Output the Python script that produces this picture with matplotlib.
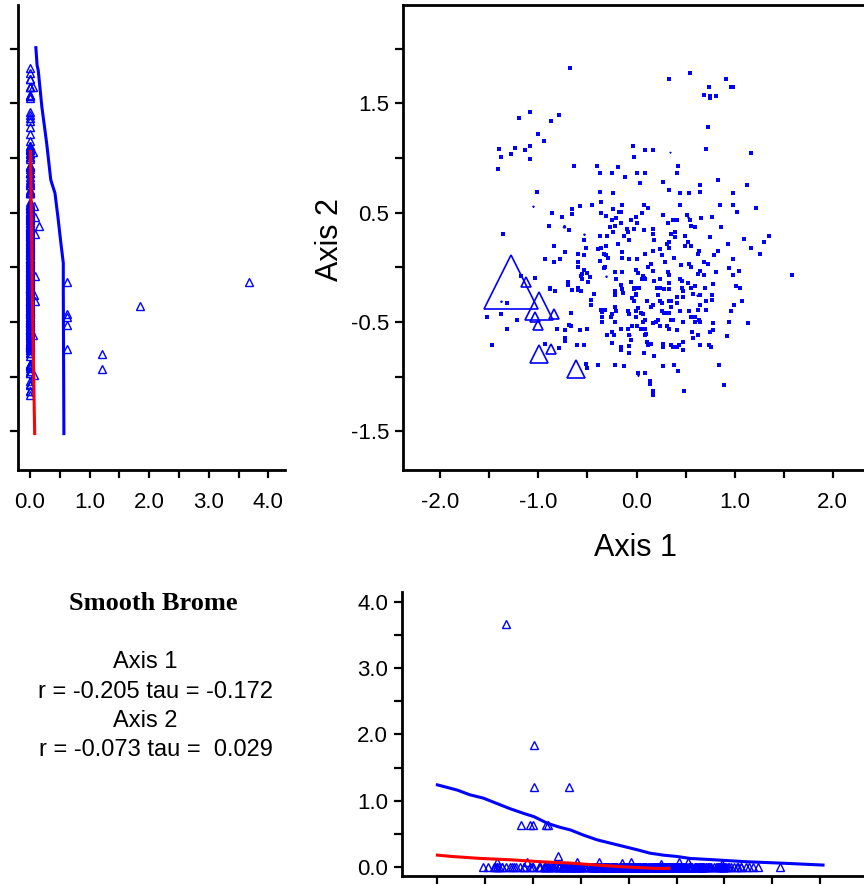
import matplotlib
matplotlib.use('Agg')
import matplotlib.pyplot as plt
import numpy as np

plt.rcParams['font.family'] = ['Liberation Sans', 'DejaVu Sans']

# plots without smooth brome (axis 1, axis 2 scores)
ax1_zero = [-0.68, -1.20, -1.09, -0.87, -0.79, -1.00, -0.94, -1.09, -1.14, -1.24, -1.28, -1.40, -1.38, -1.09, -1.41,
            -0.04, -0.03, -0.64, -0.40, -0.19, -0.37, -0.25, 0.00,
            0.54, 0.33, 0.91, 0.74, 0.96, 0.98, 0.69, 0.75, 0.75, 0.81, 0.73, 0.09, 0.17, 0.71, 1.17, 0.42, 0.09, 0.41,
            -1.01, -1.36, -0.89, -0.86, -0.76, -0.69, -0.66, -0.66, -0.58, -0.45, -0.12, 0.04, -0.37, -0.24, -0.36,
            -0.15, -0.36, -0.31, -0.24, -0.18, -0.16, -0.25, -0.21, -0.16, -0.06, -0.01, 0.00, -0.27, -0.22, -0.24,
            -0.10, -0.09, -0.03, -0.13, -0.37, -0.30, -0.08, -0.54, -0.52, -0.19, -0.31, -0.39, -0.36, -0.84, -0.73,
            -0.60, -0.54, -0.33, -0.31, -0.29, -0.15, -0.15, -0.08, 0.00, -0.93, -0.84, -0.78, -0.60, -0.37, -0.60,
            -0.32, -0.33, -0.54, -0.56, -0.57, -0.50, -0.47, -0.49, -0.56, -0.22, -0.15, -0.01, 0.01, -0.21, -0.06,
            -1.03, -1.18, -0.70, -0.70, -0.88, -0.60, -0.16, -0.03,
            0.27, 0.83, 0.65, 1.13, 0.33, 0.44, 0.53, 0.65, 0.98, 0.08, 0.12, 0.44, 0.85, 0.98, 1.02, 1.22, 0.06,
            0.27, 0.51, 0.54, 0.66, 0.77, 0.32, 0.37, 0.41, 0.56, 0.60, 0.86, 0.08, 0.17, 0.17, 0.35, 0.39, 0.39,
            0.49, 0.75, 1.10, 1.35, 0.18, 0.31, 0.33, 0.33, 0.52, 0.56, 0.49, 0.93, 1.30, 1.17, 0.24, 0.17, 0.64,
            0.63, 0.83, 1.26, 0.09, 0.26, 0.79, 0.38, 0.98, 0.29, 0.15, 0.12, 0.45, 0.53, 0.56, 0.69, 0.73, 0.17,
            0.32, 0.65, 0.63, 0.81, 0.94, 1.04, 0.98, 1.58, 0.07, 0.08, 0.06, 0.09, 0.18, 0.24, 0.33, 0.33, 0.44,
            0.46, 0.52, 0.69, 0.60, 0.78, 1.01, 1.05, 0.01, 0.03, 0.21, 0.24, 0.46, 0.55, 0.70,
            -1.32, -1.52, -1.38, -1.22, -1.32, -1.47, -0.88, -0.83, -0.66, -0.60, -0.57, -0.43, -0.46, -0.46, -0.67,
            -0.81, -0.73, -0.69, -0.67, -0.58, -0.50, -0.73, -0.73, -0.61, -0.54, -0.79, -0.93, -0.52, -0.50, -0.39,
            -0.22, -0.13, 0.02, -0.36, -0.35, -0.32, -0.35, -0.35, -0.26, -0.25, -0.21, -0.22, -0.22, -0.22, -0.15,
            -0.14, -0.03, -0.01, -0.05, 0.01, -0.01, -0.09, -0.08, -0.01, -0.22, -0.16, -0.09, -0.05, 0.00, -0.30,
            -0.25, -0.23, -0.08, -0.06, -0.25, -0.16, -0.16, -0.08, -0.08,
            0.28, 0.33, 0.47, -0.01, 0.22, 0.41, 0.47, 0.58, 0.65, 0.77, 0.77, 0.11, 0.24, 0.26, 0.33, 0.35, 0.41,
            0.71, 0.65, -0.03, 0.15, 0.17, 0.35, 0.99, 1.07, 0.05, 0.07, 0.26, 0.28, 0.31, 0.33, 0.44, 0.53, 0.63,
            0.71, 0.96, 0.09, 0.07, 0.22, 0.20, 0.35, 0.37, 0.47, 0.55, 0.60, 0.60, 0.64, 0.65, 0.78, 0.94, 1.14,
            0.05, 0.09, 0.17, 0.24, 0.31, 0.33, 0.41, 0.57, 0.75, 0.78, 0.10, 0.09, 0.58, 0.63, 0.92, 0.11, 0.12,
            0.15, 0.27, 0.27, 0.35, 0.37, 0.41, 0.43, 0.47, 0.47, 0.65, 0.74, 0.76, 0.08, 0.18, 0.27, 0.38, 0.42,
            0.84, 0.09, 0.14, 0.14, 0.17, 0.17, 0.48, 0.89]
ax2_zero = [1.82, 1.37, 1.42, 1.34, 1.39, 1.22, 1.16, 1.11, 1.07, 1.09, 1.04, 1.08, 1.01, 0.99, 0.90,
            1.11, 1.01, 0.93, 0.93, 0.92, 0.86, 0.86, 0.86,
            1.78, 1.72, 1.72, 1.65, 1.65, 1.65, 1.58, 1.57, 1.55, 1.57, 1.28, 1.07, 1.07, 1.08, 1.05, 0.93, 0.86, 0.86,
            0.69, 0.31, 0.38, 0.50, 0.46, 0.34, 0.53, 0.49, 0.56, 0.57, 0.83, 0.77, 0.69, 0.68, 0.60,
            0.57, 0.50, 0.47, 0.53, 0.51, 0.51, 0.43, 0.45, 0.41, 0.43, 0.46, 0.41, 0.37, 0.38, 0.32,
            0.35, 0.32, 0.35, 0.29, 0.29, 0.29, 0.25, 0.25, 0.18, 0.21, 0.20, 0.17, 0.18, 0.20, 0.14,
            0.12, 0.11, 0.12, 0.11, 0.09, 0.14, 0.09, 0.08, 0.08, 0.08, 0.05, 0.08, 0.05, 0.06, 0.00,
            0.00, -0.01, -0.02, -0.06, -0.08, -0.05, -0.09, -0.13, -0.11, -0.04, -0.04, -0.02, -0.05, -0.11, -0.13,
            -0.10, -0.08, -0.13, -0.16, -0.19, -0.19, -0.16, -0.19,
            0.78, 0.80, 0.75, 0.75, 0.71, 0.68, 0.68, 0.69, 0.68, 0.57, 0.54, 0.57, 0.57, 0.57, 0.51, 0.54, 0.50,
            0.48, 0.48, 0.43, 0.45, 0.46, 0.41, 0.43, 0.43, 0.38, 0.37, 0.37, 0.34, 0.35, 0.31, 0.31, 0.32, 0.28,
            0.29, 0.28, 0.26, 0.29, 0.25, 0.21, 0.23, 0.18, 0.23, 0.20, 0.20, 0.21, 0.23, 0.18, 0.17, 0.15, 0.15,
            0.12, 0.15, 0.12, 0.12, 0.11, 0.11, 0.09, 0.08, 0.05, 0.03, 0.00, 0.02, 0.03, 0.00, 0.05, 0.03, -0.03,
            -0.04, -0.03, -0.06, -0.04, -0.01, -0.03, -0.07, -0.07, -0.08, -0.10, -0.11, -0.11, -0.12, -0.11, -0.07, -0.14, -0.11,
            -0.12, -0.14, -0.07, -0.17, -0.15, -0.17, -0.19, -0.19, -0.19, -0.19, -0.19, -0.19, -0.19, -0.19,
            -0.33, -0.45, -0.43, -0.48, -0.56, -0.71, -0.20, -0.22, -0.21, -0.21, -0.22, -0.24, -0.30, -0.34, -0.42,
            -0.56, -0.57, -0.53, -0.54, -0.57, -0.56, -0.65, -0.67, -0.71, -0.71, -0.74, -0.70, -0.88, -0.92, -0.89,
            -0.89, -0.90, -0.97, -0.39, -0.41, -0.39, -0.45, -0.50, -0.45, -0.43, -0.40, -0.36, -0.25, -0.22, -0.20,
            -0.23, -0.20, -0.25, -0.28, -0.37, -0.40, -0.40, -0.43, -0.45, -0.50, -0.56, -0.56, -0.54, -0.54, -0.62,
            -0.59, -0.62, -0.62, -0.66, -0.69, -0.73, -0.76, -0.72, -0.78,
            -0.20, -0.20, -0.22, -0.24, -0.25, -0.27, -0.27, -0.24, -0.25, -0.25, -0.30, -0.31, -0.31, -0.33, -0.31, -0.31, -0.33,
            -0.31, -0.34, -0.31, -0.36, -0.34, -0.36, -0.34, -0.31, -0.42, -0.43, -0.40, -0.42, -0.42, -0.42, -0.40, -0.40, -0.39,
            -0.39, -0.40, -0.48, -0.50, -0.48, -0.50, -0.48, -0.48, -0.50, -0.45, -0.45, -0.50, -0.48, -0.50, -0.51, -0.50, -0.51,
            -0.56, -0.56, -0.51, -0.54, -0.54, -0.56, -0.57, -0.59, -0.59, -0.57, -0.61, -0.62, -0.65, -0.62, -0.63, -0.68, -0.71,
            -0.70, -0.70, -0.73, -0.71, -0.73, -0.73, -0.71, -0.68, -0.76, -0.71, -0.71, -0.73, -0.78, -0.81, -0.90, -0.89, -0.95,
            -0.89, -0.97, -1.04, -1.07, -1.13, -1.17, -1.13, -1.08]

# plots with smooth brome: axis scores and cover
ax1_brome = [-1.28, -0.99, -0.99, -0.62, -1.13, -1.03, -1.00, -0.87, -0.84, -0.74,
             -1.38, -1.06, -0.54, -0.31, -0.07, 0.02, 0.34, 0.52, 0.62, 0.97]
ax2_brome = [-0.13, -0.35, -0.79, -0.93, -0.13, -0.45, -0.53, -0.75, -0.43, 0.38,
             -0.31, 0.56, 0.31, -0.08, -0.62, -0.98, 1.06, 0.46, -0.25, 1.65]
cover_brome = [3.67, 1.84, 1.21, 1.21, 0.63, 0.63, 0.63, 0.63, 0.63, 0.16,
               0.08, 0.07, 0.08, 0.08, 0.06, 0.07, 0.05, 0.08, 0.07, 0.05]

# smoothed fits, cover vs axis 2 (left panel)
fit2_blue_cov = [0.10, 0.12, 0.14, 0.20, 0.28, 0.35, 0.42, 0.47, 0.52, 0.56, 0.56, 0.57]
fit2_blue_ax = [2.01, 1.85, 1.80, 1.47, 1.14, 0.80, 0.68, 0.46, 0.22, 0.04, -0.21, -1.52]
fit2_red_cov = [0.01, 0.03, 0.05, 0.08]
fit2_red_ax = [1.06, 0.20, -0.60, -1.52]

# smoothed fits, cover vs axis 1 (bottom panel)
fit1_blue_ax = [-2.00, -1.92, -1.79, -1.66, -1.52, -1.38, -1.24, -1.10, -0.99, -0.85, -0.72, -0.61, -0.47,
                -0.33, -0.19, -0.05, 0.09, 0.22, 0.36, 0.50, 0.64, 0.89, 1.23, 1.58, 2.03]
fit1_blue_cov = [1.24, 1.21, 1.16, 1.09, 1.04, 0.96, 0.88, 0.81, 0.76, 0.66, 0.60, 0.56, 0.48,
                 0.41, 0.36, 0.31, 0.26, 0.21, 0.18, 0.16, 0.13, 0.11, 0.08, 0.06, 0.03]
fit1_red_ax = [-2.00, -1.85, -1.55, -1.24, -0.92, -0.61, -0.33, -0.02, 0.28, 0.42]
fit1_red_cov = [0.18, 0.16, 0.13, 0.11, 0.08, 0.06, 0.03, 0.00, -0.02, -0.02]

stats_lines = ['Axis 1', 'r = -0.205 tau = -0.172', 'Axis 2', 'r = -0.073 tau =  0.029']

W, H = 864, 886
BLUE = '#0000ff'
RED = '#ff0000'


def box(x0, y0, x1, y1):
    # pixel box -> figure fraction rect
    return [x0 / W, 1 - y1 / H, (x1 - x0) / W, (y1 - y0) / H]


def style_axes(ax, lw=2.0):
    for s in ax.spines.values():
        s.set_linewidth(lw)
    ax.tick_params(direction='out', length=6, width=1.6, labelsize=16, colors='black', pad=4)


fig = plt.figure(figsize=(W / 100, H / 100), dpi=100)

# main ordination
axm = fig.add_axes(box(403, 5, 874, 470))
axm.scatter(ax1_zero, ax2_zero, s=9, marker='s', color=BLUE, linewidths=0)
for x, y, c in zip(ax1_brome, ax2_brome, cover_brome):
    axm.plot(x, y, marker='^', ms=10.6 * c, mfc='none', mec=BLUE, mew=1.2, ls='none')
axm.set_xlim(-2.38, 2.42)
axm.set_ylim(-1.853, 2.40)
axm.set_xticks(np.arange(-2.0, 2.01, 0.5))
axm.set_xticklabels(['-2.0', '', '-1.0', '', '0.0', '', '1.0', '', '2.0'])
axm.set_yticks(np.arange(-1.5, 2.01, 0.5))
axm.set_yticklabels(['-1.5', '', '-0.5', '', '0.5', '', '1.5', ''])
style_axes(axm)
axm.tick_params(axis='x', pad=10)

# left panel: cover vs axis 2
axl = fig.add_axes(box(18, 5, 285, 470))
axl.plot(np.zeros(len(ax1_zero)), ax2_zero, ls='none', marker='^', ms=5.5, mfc='none', mec=BLUE, mew=1.0)
axl.plot(cover_brome, ax2_brome, ls='none', marker='^', ms=5.5, mfc='none', mec=BLUE, mew=1.0)
axl.plot(fit2_blue_cov, fit2_blue_ax, color=BLUE, lw=2.2)
axl.plot(fit2_red_cov, fit2_red_ax, color=RED, lw=2.2)
axl.set_xlim(-0.2, 4.28)
axl.set_ylim(-1.853, 2.40)
axl.set_xticks(np.arange(0, 4.01, 0.5))
axl.set_xticklabels(['0.0', '', '1.0', '', '2.0', '', '3.0', '', '4.0'])
axl.set_yticks(np.arange(-1.5, 2.01, 0.5))
axl.set_yticklabels([])
axl.spines['top'].set_visible(False)
axl.spines['right'].set_visible(False)
style_axes(axl)
axl.tick_params(axis='x', pad=10)

# bottom panel: cover vs axis 1
axb = fig.add_axes(box(402, 592, 868, 876))
axb.plot(ax1_zero, np.zeros(len(ax1_zero)), ls='none', marker='^', ms=5.5, mfc='none', mec=BLUE, mew=1.0)
axb.plot(ax1_brome, cover_brome, ls='none', marker='^', ms=5.5, mfc='none', mec=BLUE, mew=1.0)
axb.plot(fit1_blue_ax, fit1_blue_cov, color=BLUE, lw=2.2)
axb.plot(fit1_red_ax, fit1_red_cov, color=RED, lw=2.2)
axb.set_xlim(-2.37, 2.5)
axb.set_ylim(-0.135, 4.15)
axb.set_xticks(np.arange(-2.0, 2.01, 0.5))
axb.set_xticklabels([])
axb.set_yticks(np.arange(0, 4.01, 0.5))
axb.set_yticklabels(['0.0', '', '1.0', '', '2.0', '', '3.0', '', '4.0'])
axb.spines['top'].set_visible(False)
axb.spines['right'].set_visible(False)
style_axes(axb)

# axis titles
fig.text(636 / W, 1 - 548 / H, 'Axis 1', fontsize=22, ha='center', va='center')
fig.text(330 / W, 1 - 240 / H, 'Axis 2', fontsize=22, rotation=90, ha='center', va='center')

# species title and correlations
fig.text(153 / W, 1 - 603 / H, 'Smooth Brome', fontsize=19, fontweight='bold',
         family=['Liberation Serif', 'DejaVu Serif'], ha='center', va='center')
for txt, xc, yc in zip(stats_lines, [145, 156, 145, 156], [662, 692, 721, 750]):
    fig.text(xc / W, 1 - yc / H, txt, fontsize=17, ha='center', va='center')

fig.savefig('out.png', dpi=100)
